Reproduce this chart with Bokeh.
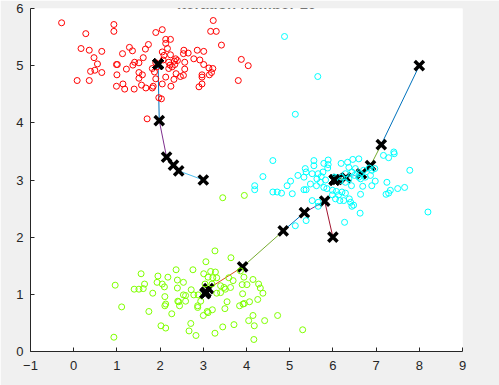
from bokeh.plotting import figure
from bokeh.models import Range1d, FixedTicker, Label, ColumnDataSource
from bokeh.embed import file_html
from bokeh.resources import INLINE

# ---- data points ----
red_x = [-0.28, 0.93, 3.23, 0.28, 0.93, 1.90, 2.05, 3.17, 3.30, 2.13, 2.24, 1.73, 0.17, 0.36, 0.65,
         1.29, 1.36, 1.66, 2.13, 2.17, 2.05, 2.55, 2.65, 2.54, 2.86, 3.01, 2.78, 2.92, 3.42, 3.88,
         4.04, 0.47, 0.55, 0.99, 1.01, 1.37, 1.41, 1.61, 1.51, 1.13, 1.22, 0.39, 0.49, 0.65, 0.08,
         0.36, 1.00, 1.51, 1.59, 1.51, 1.87, 2.07, 2.20, 2.33, 2.40, 2.23, 2.20, 2.28, 2.34, 2.57,
         2.57, 2.37, 2.32, 2.47, 2.54, 2.13, 2.05, 1.90, 3.01, 3.13, 3.22, 3.19, 3.14, 2.97, 2.97,
         2.97, 2.90, 3.81, 0.99, 1.14, 1.18, 1.40, 1.57, 1.67, 1.82, 1.84, 2.25, 1.97, 2.03, 1.90,
         1.82, 1.93, 2.09, 2.24, 2.36, 1.70]
red_y = [5.75, 5.72, 5.79, 5.56, 5.60, 5.58, 5.63, 5.60, 5.60, 5.46, 5.46, 5.37, 5.30, 5.27, 5.25,
         5.32, 5.26, 5.29, 5.39, 5.30, 5.24, 5.27, 5.22, 5.21, 5.27, 5.25, 5.12, 5.10, 5.36, 5.11,
         5.00, 5.14, 5.03, 5.02, 5.02, 5.01, 5.06, 5.14, 5.05, 5.21, 4.94, 4.90, 4.92, 4.88, 4.74,
         4.74, 4.84, 4.88, 4.84, 4.78, 4.89, 5.10, 5.06, 5.08, 5.09, 5.01, 4.95, 4.98, 5.02, 5.06,
         4.94, 4.86, 4.76, 4.81, 4.83, 4.80, 4.68, 4.77, 5.02, 4.96, 4.95, 4.88, 4.84, 4.84, 4.80,
         4.68, 4.63, 4.74, 4.64, 4.68, 4.59, 4.59, 4.66, 4.61, 4.61, 4.64, 4.64, 4.44, 4.42, 5.05,
         4.95, 4.98, 5.18, 5.19, 5.12, 4.07]

green_x = [3.27, 3.64, 3.06, 1.56, 1.95, 2.18, 2.37, 2.76, 3.01, 3.17, 3.28, 3.11, 3.22, 3.31, 2.40,
           2.54, 2.05, 2.10, 1.93, 1.64, 1.61, 1.40, 1.51, 0.96, 1.83, 2.40, 2.72, 2.54, 2.59, 2.59,
           2.41, 2.45, 2.11, 2.11, 2.13, 2.27, 1.74, 1.11, 2.78, 2.88, 2.94, 2.87, 2.87, 3.09, 3.11,
           3.00, 3.21, 3.31, 3.40, 3.48, 3.51, 3.63, 3.69, 3.59, 3.86, 3.94, 3.90, 4.01, 3.91, 4.15,
           4.28, 4.32, 4.38, 4.26, 4.07, 3.95, 3.92, 3.84, 3.55, 3.50, 4.15, 4.05, 4.18, 4.42, 4.72,
           5.30, 3.71, 3.45, 3.27, 2.83, 2.67, 2.71, 2.13, 2.02, 0.93, 4.17, 2.43, 3.20, 3.40, 3.04,
           3.45, 3.95]
green_y = [1.76, 1.64, 1.57, 1.36, 1.32, 1.30, 1.43, 1.43, 1.36, 1.40, 1.39, 1.30, 1.29, 1.29, 1.25,
           1.21, 1.18, 1.13, 1.21, 1.18, 1.10, 1.09, 1.09, 1.16, 1.02, 1.11, 1.08, 0.99, 0.98, 0.88,
           0.88, 0.80, 0.96, 0.80, 0.83, 0.66, 0.70, 0.78, 0.99, 0.99, 0.88, 0.80, 0.77, 0.70, 0.68,
           0.63, 0.73, 1.02, 1.15, 1.12, 1.09, 1.12, 1.24, 1.29, 1.41, 1.30, 1.17, 1.17, 1.01, 1.26,
           1.18, 1.11, 1.02, 0.91, 0.87, 0.84, 0.83, 0.80, 0.87, 0.75, 0.63, 0.54, 0.45, 0.54, 0.63,
           0.38, 0.47, 0.43, 0.32, 0.28, 0.36, 0.49, 0.41, 0.45, 0.25, 0.21, 0.87, 1.18, 1.03, 1.18,
           2.69, 2.73]

cyan_x = [4.61, 4.38, 4.19, 4.19, 4.61, 4.71, 4.81, 5.06, 4.94, 5.02, 5.19, 5.33, 5.36, 5.38, 5.33,
          5.38, 5.56, 5.56, 5.89, 5.89, 5.79, 5.88, 5.52, 5.66, 5.77, 5.63, 5.71, 5.62, 5.83, 5.79,
          5.86, 5.99, 6.08, 5.99, 6.13, 6.21, 6.29, 6.06, 6.16, 6.25, 6.38, 6.41, 6.48, 6.44, 6.63,
          6.27, 5.66, 5.52, 5.38, 5.13, 5.66, 6.19, 6.34, 6.46, 6.60, 6.37, 6.52, 6.29, 6.44, 6.64,
          6.71, 6.64, 6.75, 6.43, 6.64, 6.69, 6.90, 6.98, 6.87, 6.90, 6.84, 6.97, 7.17, 7.29, 7.41,
          7.42, 7.25, 7.33, 7.23, 7.29, 7.50, 7.66, 7.78, 8.20, 6.04, 6.17, 6.29, 6.37, 5.73, 5.48,
          4.88, 5.65, 5.13, 6.05, 6.20, 6.50, 6.60]
cyan_y = [3.34, 3.06, 2.90, 2.83, 2.79, 2.79, 2.77, 2.76, 2.90, 2.98, 3.08, 3.05, 3.20, 3.14, 2.83,
          2.83, 3.34, 3.25, 3.35, 3.27, 3.29, 3.21, 3.11, 3.11, 3.14, 3.02, 2.96, 2.90, 3.00, 2.87,
          2.85, 2.82, 2.80, 2.74, 2.74, 2.79, 2.77, 2.67, 2.64, 2.64, 2.67, 2.61, 2.56, 2.54, 2.42,
          2.26, 2.61, 2.64, 2.29, 2.20, 2.54, 3.29, 3.31, 3.36, 3.37, 3.22, 3.20, 3.11, 3.14, 3.11,
          3.17, 3.02, 3.05, 2.90, 2.75, 2.89, 2.90, 2.98, 3.08, 3.17, 3.21, 3.20, 3.43, 3.39, 3.49,
          3.46, 2.96, 2.82, 2.75, 2.77, 2.85, 2.87, 3.17, 2.44, 3.05, 2.99, 2.96, 3.02, 3.06, 2.93,
          5.51, 4.81, 4.15, 3.02, 3.05, 3.08, 3.05]

# ---- centroid history (iterations 0..9) ----
cent1_x = [3.00, 2.43, 2.31, 2.15, 1.98, 1.954, 1.954, 1.954, 1.954, 1.954]
cent1_y = [3.00, 3.16, 3.26, 3.40, 4.04, 5.026, 5.026, 5.026, 5.026, 5.026]
cent2_x = [6.00, 5.81, 5.34, 4.85, 3.91, 3.12, 3.06, 3.044, 3.044, 3.044]
cent2_y = [2.00, 2.63, 2.43, 2.11, 1.48, 1.10, 1.04, 1.015, 1.015, 1.015]
cent3_x = [8.00, 7.12, 6.87, 6.66, 6.30, 6.10, 6.04, 6.034, 6.034, 6.034]
cent3_y = [5.00, 3.62, 3.25, 3.11, 3.04, 3.01, 3.00, 3.0005, 3.0005, 3.0005]

x_ticks = [-1, 0, 1, 2, 3, 4, 5, 6, 7, 8, 9]
y_ticks = [0, 1, 2, 3, 4, 5, 6]
title_text = "Iteration number 10"

color_order = ["#0072BD", "#D95319", "#EDB120", "#7E2F8E", "#77AC30", "#4DBEEE", "#A2142F"]

p = figure(width=499, height=385, output_backend="svg", toolbar_location=None,
           x_range=Range1d(-1, 9), y_range=Range1d(0, 6),
           min_border_left=30, min_border_right=37, min_border_top=8, min_border_bottom=34,
           frame_width=432, frame_height=343)
p.background_fill_color = "white"
p.border_fill_color = "#f0f0f0"
p.outline_line_color = None
p.xgrid.visible = False
p.ygrid.visible = False

for ax, ticks in ((p.xaxis, x_ticks), (p.yaxis, y_ticks)):
    ax.ticker = FixedTicker(ticks=ticks)
    ax.major_tick_in = 4
    ax.major_tick_out = 0
    ax.minor_tick_line_color = None
    ax.axis_line_color = "#262626"
    ax.major_tick_line_color = "#262626"
    ax.major_label_text_font = "Liberation Sans"
    ax.major_label_text_font_size = "13px"
    ax.major_label_text_color = "#262626"
p.xaxis.major_label_standoff = 9
p.yaxis.major_label_standoff = 7

# centroid path segments
paths = [(cent1_x, cent1_y), (cent2_x, cent2_y), (cent3_x, cent3_y)]
seg = dict(x0=[], y0=[], x1=[], y1=[], c=[])
for j, (cx, cy) in enumerate(paths, start=1):
    for k in range(1, len(cx)):
        seg["x0"].append(cx[k - 1]); seg["y0"].append(cy[k - 1])
        seg["x1"].append(cx[k]); seg["y1"].append(cy[k])
        seg["c"].append(color_order[(4 * k + j) % 7])
p.segment(x0="x0", y0="y0", x1="x1", y1="y1", line_color="c", line_width=1,
          source=ColumnDataSource(seg))

# old centroid markers
old_x = [v for cx, _ in paths for v in cx[:-1]]
old_y = [v for _, cy in paths for v in cy[:-1]]
p.scatter(old_x, old_y, marker="x", size=13, line_width=3.5, line_color="black")

# data points
for xs, ys, col in ((red_x, red_y, "#FF0000"), (green_x, green_y, "#80FF00"),
                    (cyan_x, cyan_y, "#00FFFF")):
    p.scatter(xs, ys, marker="circle", size=6, fill_color=None, line_color=col, line_width=1)

# final centroids
p.scatter([cent1_x[-1], cent2_x[-1], cent3_x[-1]], [cent1_y[-1], cent2_y[-1], cent3_y[-1]],
          marker="x", size=13, line_width=3.5, line_color="black")

p.add_layout(Label(x=4, y=6, y_offset=5, text=title_text, text_align="center",
                   text_baseline="alphabetic", text_font="Liberation Sans",
                   text_font_size="15px", text_font_style="bold", text_color="#000000"))

open("out.html", "w").write(file_html(p, INLINE))
